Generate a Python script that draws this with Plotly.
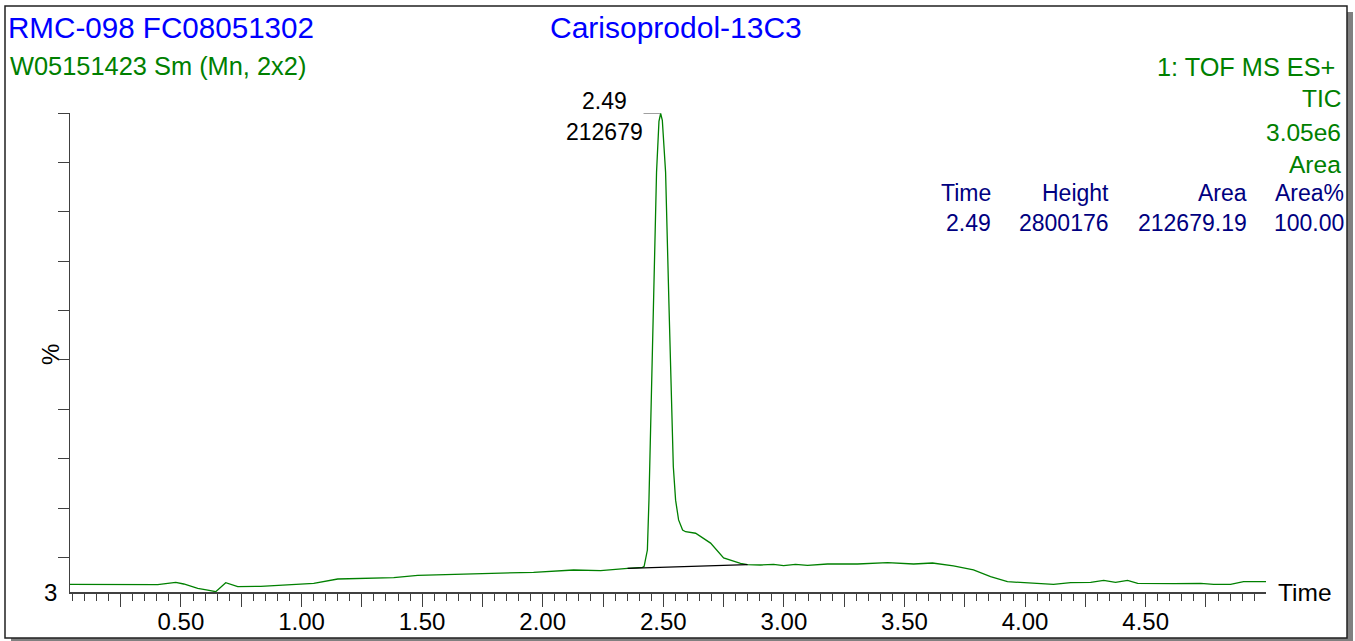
import plotly.graph_objects as go

# ---------------- data ----------------
time_min = [0.04, 0.2215, 0.2795, 0.4038, 0.4453, 0.4785, 0.5116, 0.5697, 0.6111, 0.6443,
            0.6857, 0.7355, 0.8308, 0.9428, 1.0506, 1.1501, 1.3823, 1.4818, 1.689, 1.962,
            2.128, 2.240, 2.352, 2.414, 2.4205, 2.434, 2.4405, 2.447, 2.461, 2.472,
            2.482, 2.489, 2.496, 2.5095, 2.523, 2.533, 2.5415, 2.551, 2.5634, 2.580,
            2.5925, 2.634, 2.696, 2.750, 2.820, 2.849, 2.903, 2.957, 2.999, 3.048,
            3.098, 3.181, 3.305, 3.430, 3.538, 3.616, 3.703, 3.786, 3.857, 3.927,
            4.023, 4.118, 4.189, 4.272, 4.326, 4.375, 4.425, 4.467, 4.616, 4.728,
            4.782, 4.852, 4.906, 4.968, 4.999]
intensity_pct = [4.56, 4.56, 4.42, 4.48, 4.76, 4.96, 4.62, 3.75, 3.40, 3.06,
                 4.88, 4.07, 4.15, 4.48, 4.76, 5.63, 5.90, 6.38, 6.65, 6.99,
                 7.46, 7.31, 7.80, 8.00, 8.20, 11.5, 21.6, 35.2, 67.5, 88.0,
                 98.3, 99.9, 98.5, 88.0, 62.1, 41.9, 28.4, 21.6, 17.6, 15.56,
                 15.2, 14.9, 12.9, 9.9, 8.8, 8.55, 8.47, 8.61, 8.33, 8.61,
                 8.41, 8.67, 8.67, 8.93, 8.67, 8.87, 8.27, 7.46, 6.10, 5.09,
                 4.76, 4.56, 4.88, 4.96, 5.37, 4.96, 5.37, 4.76, 4.68, 4.76,
                 4.56, 4.56, 5.09, 5.17, 5.09]

baseline_time = [2.352, 2.849]
baseline_pct = [7.80, 8.55]

peak_time = 2.49
peak_pct = 100.0
peak_area_label = "212679"

x_tick_vals = [0.25 * i for i in range(1, 20)]
x_tick_text = [("%.2f" % v) if abs((v * 2) - round(v * 2)) < 1e-9 else "" for v in x_tick_vals]
y_tick_vals = [10, 20, 30, 40, 50, 60, 70, 80, 90, 100]
y_min_label = "3"

table_headers = ["Time", "Height", "Area", "Area%"]
table_values = ["2.49", "2800176", "212679.19", "100.00"]

title_left = "RMC-098 FC08051302"
title_center = "Carisoprodol-13C3"
subtitle_left = "W05151423 Sm (Mn, 2x2)"
info_right = ["1: TOF MS ES+", "TIC", "3.05e6", "Area"]

# ---------------- layout geometry ----------------
W, H = 1355, 641
L, R, T, B = 70, 89, 113, 49
PW, PH = W - L - R, H - T - B

def px(x):
    return (x - L) / PW

def py(y):
    return (H - B - y) / PH

FONT = "Liberation Sans, Arial, sans-serif"
BLUE = "#0000FF"
GREEN = "#008000"
NAVY = "#000080"
AXC = "#404040"

fig = go.Figure()

fig.add_trace(go.Scatter(x=time_min, y=intensity_pct, mode="lines",
                         line=dict(color=GREEN, width=1.3), hoverinfo="skip"))
fig.add_trace(go.Scatter(x=baseline_time, y=baseline_pct, mode="lines",
                         line=dict(color="#000000", width=1.2), hoverinfo="skip"))
fig.add_trace(go.Scatter(x=[peak_time - 0.072, peak_time - 0.004], y=[peak_pct, peak_pct], mode="lines",
                         line=dict(color="#808080", width=1.5), hoverinfo="skip", cliponaxis=False))

ann = []
def text(x, y, s, size, color, anchor="left"):
    ann.append(dict(xref="paper", yref="paper", x=px(x), y=py(y), text=s, showarrow=False,
                    xanchor=anchor, yanchor="middle",
                    font=dict(family=FONT, size=size, color=color)))

text(6, 27, title_left, 29.6, BLUE, "left")
text(676, 27, title_center, 30, BLUE, "center")
text(8, 66, subtitle_left, 25.4, GREEN, "left")
text(1337, 67, info_right[0], 25.3, GREEN, "right")
text(1343, 98, info_right[1], 24.5, GREEN, "right")
text(1343, 132, info_right[2], 24.5, GREEN, "right")
text(1343, 164, info_right[3], 24.5, GREEN, "right")
col_right = [993, 1111, 1249, 1346]
for cx, hdr, val in zip(col_right, table_headers, table_values):
    text(cx, 193, hdr, 23, NAVY, "right")
    text(cx, 223, val, 23, NAVY, "right")
text(59, 592, y_min_label, 24, "#000000", "right")
text(1276, 592, "Time", 24.5, "#000000", "left")
ann.append(dict(xref="paper", yref="paper", x=px(50), y=py(355), text="%", showarrow=False,
                textangle=-90, xanchor="center", yanchor="middle",
                font=dict(family=FONT, size=24, color="#000000")))

# peak labels
ann.append(dict(xref="x", yref="y", x=peak_time, y=peak_pct, text="%.2f" % peak_time,
                showarrow=False, xanchor="center", yanchor="middle", xshift=-56.5, yshift=12.5,
                font=dict(family=FONT, size=23, color="#000000")))
ann.append(dict(xref="x", yref="y", x=peak_time, y=peak_pct, text=peak_area_label,
                showarrow=False, xanchor="center", yanchor="middle", xshift=-56.5, yshift=-18.5,
                font=dict(family=FONT, size=23, color="#000000")))

shapes = [
    dict(type="rect", xref="paper", yref="paper", x0=px(11), x1=px(1353), y0=py(641), y1=py(12),
         fillcolor="#808080", line=dict(width=0), layer="below"),
    dict(type="rect", xref="paper", yref="paper", x0=px(5), x1=px(1347), y0=py(638), y1=py(6),
         fillcolor="#FFFFFF", line=dict(color="#202020", width=1.5), layer="below"),
]

fig.update_layout(
    width=W, height=H, margin=dict(l=L, r=R, t=T, b=B, pad=0, autoexpand=False),
    paper_bgcolor="#FFFFFF", plot_bgcolor="rgba(0,0,0,0)",
    showlegend=False, hovermode=False,
    annotations=ann, shapes=shapes,
    font=dict(family=FONT, color="#000000"),
    xaxis=dict(range=[0.04, 4.999], showgrid=False, zeroline=False, showline=True,
               automargin=False, ticklabelstandoff=-5,
               linecolor=AXC, linewidth=1.5, ticks="outside", ticklen=13, tickwidth=1,
               tickcolor=AXC, tickmode="array", tickvals=x_tick_vals, ticktext=x_tick_text,
               tickfont=dict(family=FONT, size=24, color="#000000"),
               minor=dict(tick0=0, dtick=0.05, ticks="outside", ticklen=7, tickwidth=1,
                          tickcolor=AXC, showgrid=False)),
    yaxis=dict(range=[3, 100], showgrid=False, zeroline=False, showline=True,
               automargin=False,
               linecolor=AXC, linewidth=1.5, ticks="outside", ticklen=11, tickwidth=1,
               tickcolor=AXC, tickmode="array", tickvals=y_tick_vals, showticklabels=False),
)

fig.write_html("out.html", config={"displayModeBar": False, "staticPlot": True},
               post_script="document.body.style.margin='0';document.body.style.overflow='hidden';")
